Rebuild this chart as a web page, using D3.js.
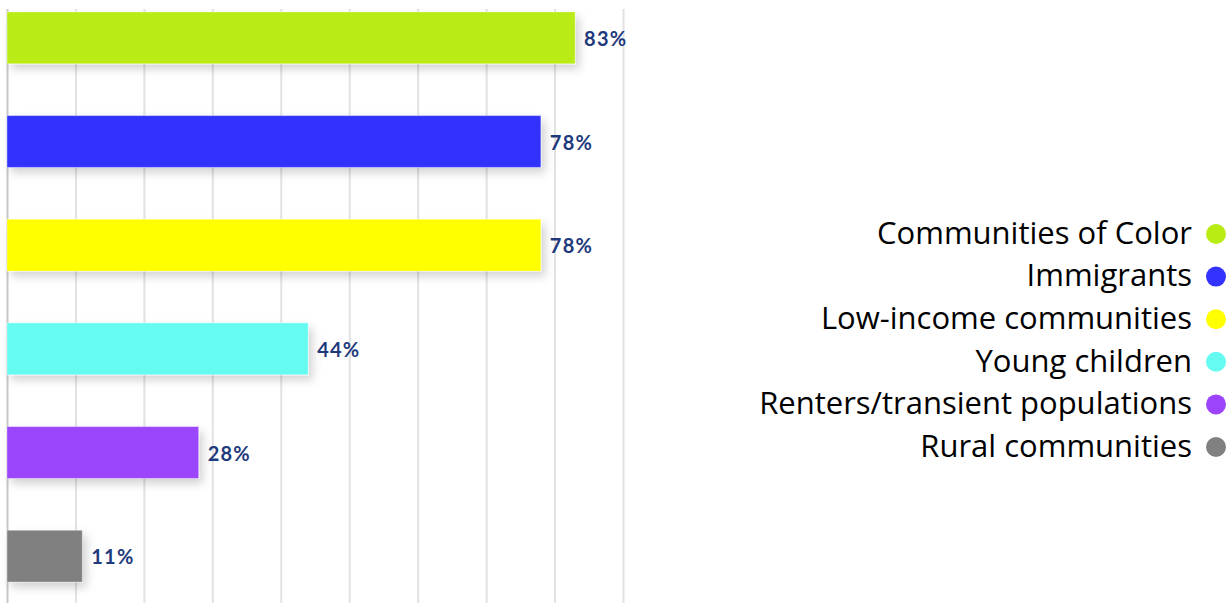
<!DOCTYPE html>
<html>
<head>
<meta charset="utf-8">
<script src="https://cdn.jsdelivr.net/npm/d3@7"></script>
<style>
  body { margin: 0; background: #fff; }
  svg { display: block; }
</style>
</head>
<body>
<div id="chart"></div>
<script>
// data
var categories = ["Communities of Color", "Immigrants", "Low-income communities", "Young children", "Renters/transient populations", "Rural communities"];
var values = [83, 78, 78, 44, 28, 11];
var colors = ["#b9ec12", "#3333ff", "#ffff00", "#66fbf1", "#9b44fc", "#808080"];
var gridTicks = [0, 10, 20, 30, 40, 50, 60, 70, 80, 90];

var width = 1228, height = 603;

var svg = d3.select("#chart").append("svg")
    .attr("width", width)
    .attr("height", height);

// soft drop shadow under the bars
var defs = svg.append("defs");
var filter = defs.append("filter")
    .attr("id", "shadow")
    .attr("x", "-10%").attr("y", "-30%")
    .attr("width", "130%").attr("height", "180%");
filter.append("feDropShadow")
    .attr("dx", 4).attr("dy", 5)
    .attr("stdDeviation", 5)
    .attr("flood-color", "#000")
    .attr("flood-opacity", 0.18);

var x = d3.scaleLinear().domain([0, 90]).range([7, 623]);
var y = d3.scaleBand().domain(categories).range([-14, 608])
    .paddingInner(0.5).paddingOuter(0.25);

// vertical gridlines
svg.append("g")
    .attr("class", "grid")
    .attr("transform", "translate(0,603)")
    .call(d3.axisBottom(x).tickValues(gridTicks).tickSize(-594).tickFormat(""))
    .call(g => g.select(".domain").remove())
    .call(g => g.selectAll(".tick line")
        .attr("stroke", (d) => d === 0 ? "#c8c8c8" : "#e2e2e2")
        .attr("stroke-width", 2));

// bars
svg.append("g").selectAll("rect")
    .data(values)
    .enter().append("rect")
    .attr("x", x(0))
    .attr("y", (d, i) => y(categories[i]))
    .attr("width", d => x(d) - x(0))
    .attr("height", y.bandwidth())
    .attr("fill", (d, i) => colors[i])
    .attr("stroke", "rgba(255,255,255,0.35)")
    .attr("stroke-width", 1)
    .attr("filter", "url(#shadow)");

// value labels
svg.append("g").selectAll("text")
    .data(values)
    .enter().append("text")
    .attr("x", d => x(d) + 9)
    .attr("y", (d, i) => y(categories[i]) + y.bandwidth() / 2 + 1)
    .attr("dy", "0.36em")
    .style("font-family", "Lato, 'Open Sans', sans-serif")
    .style("font-weight", "700")
    .style("font-size", "20px")
    .style("letter-spacing", "1.2px")
    .style("fill", "#1f3a7c")
    .text(d => d + "%");

// legend
var legend = svg.append("g").selectAll("g")
    .data(categories)
    .enter().append("g")
    .attr("transform", (d, i) => "translate(0," + (233 + i * 42.6) + ")");

legend.append("text")
    .attr("x", 1192)
    .attr("dy", "0.35em")
    .attr("text-anchor", "end")
    .style("font-family", "'Open Sans', sans-serif")
    .style("font-size", "31px")
    .style("fill", "#000")
    .text(d => d);

legend.append("circle")
    .attr("cx", 1216)
    .attr("cy", 1)
    .attr("r", 10)
    .attr("fill", (d, i) => colors[i]);
</script>
</body>
</html>
